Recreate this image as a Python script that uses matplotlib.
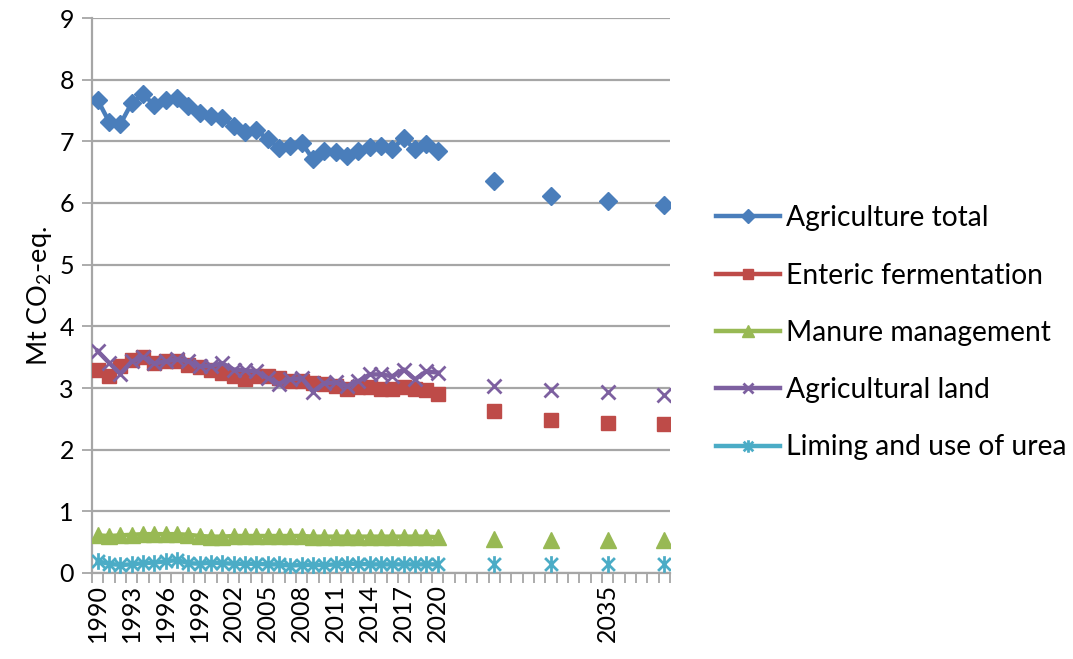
import matplotlib
matplotlib.use("Agg")
import matplotlib.pyplot as plt
from matplotlib.path import Path
from matplotlib.lines import Line2D

plt.rcParams['font.family'] = ['Lato', 'DejaVu Sans']
plt.rcParams['mathtext.fontset'] = 'custom'
plt.rcParams['mathtext.rm'] = 'Lato'
plt.rcParams['mathtext.it'] = 'Lato:italic'

# Historical inventory years and projection years
years_hist = list(range(1990, 2021))
years_proj = [2025, 2030, 2035, 2040]

agri_total = [7.67, 7.32, 7.28, 7.62, 7.76, 7.59, 7.67, 7.70, 7.57, 7.46,
              7.41, 7.38, 7.25, 7.15, 7.19, 7.03, 6.90, 6.92, 6.98, 6.71,
              6.84, 6.83, 6.76, 6.85, 6.91, 6.93, 6.88, 7.05, 6.87, 6.95, 6.84]
agri_total_proj = [6.35, 6.12, 6.04, 5.96]

enteric = [3.29, 3.20, 3.36, 3.46, 3.51, 3.41, 3.43, 3.43, 3.38, 3.34,
           3.29, 3.24, 3.20, 3.15, 3.20, 3.19, 3.16, 3.11, 3.11, 3.08,
           3.06, 3.04, 2.99, 3.01, 3.01, 2.99, 2.99, 3.01, 2.99, 2.96, 2.91]
enteric_proj = [2.62, 2.48, 2.44, 2.41]

manure = [0.61, 0.60, 0.61, 0.62, 0.63, 0.63, 0.63, 0.63, 0.62, 0.60,
          0.59, 0.59, 0.60, 0.60, 0.60, 0.60, 0.60, 0.60, 0.60, 0.59,
          0.59, 0.59, 0.59, 0.59, 0.59, 0.59, 0.59, 0.59, 0.59, 0.59, 0.58]
manure_proj = [0.55, 0.54, 0.54, 0.54]

agri_land = [3.60, 3.41, 3.23, 3.43, 3.50, 3.40, 3.43, 3.47, 3.43, 3.35,
             3.36, 3.40, 3.30, 3.29, 3.27, 3.16, 3.07, 3.14, 3.16, 2.94,
             3.08, 3.09, 3.03, 3.11, 3.22, 3.22, 3.19, 3.30, 3.14, 3.27, 3.25]
agri_land_proj = [3.04, 2.97, 2.93, 2.88]

liming = [0.19, 0.15, 0.13, 0.14, 0.16, 0.17, 0.19, 0.21, 0.16, 0.15,
          0.17, 0.16, 0.15, 0.15, 0.15, 0.14, 0.14, 0.12, 0.13, 0.13,
          0.13, 0.14, 0.15, 0.15, 0.14, 0.14, 0.14, 0.14, 0.14, 0.14, 0.14]
liming_proj = [0.14, 0.14, 0.14, 0.14]

labels = ["Agriculture total", "Enteric fermentation", "Manure management",
          "Agricultural land", "Liming and use of urea"]

tick_years = [1990, 1993, 1996, 1999, 2002, 2005, 2008, 2011, 2014, 2017, 2020, 2035]

# X-with-vertical-bar marker
star_path = Path([(-1, -1), (1, 1), (-1, 1), (1, -1), (0, -1.3), (0, 1.3)],
                 [Path.MOVETO, Path.LINETO, Path.MOVETO, Path.LINETO,
                  Path.MOVETO, Path.LINETO])

series = [
    (agri_total, agri_total_proj, '#4A7EBB', 'D', 9, 1.0),
    (enteric, enteric_proj, '#BE4B48', 's', 10, 1.0),
    (manure, manure_proj, '#98B954', '^', 11, 1.0),
    (agri_land, agri_land_proj, '#7D60A0', 'x', 10, 2.0),
    (liming, liming_proj, '#4BACC6', star_path, 12, 2.0),
]

fig = plt.figure(figsize=(10.73, 6.59), dpi=100)
ax = fig.add_axes([92 / 1073, 1 - 573 / 659, (670 - 92) / 1073, (573 - 18) / 659])

handles = []
for hist, proj, color, marker, ms, mew in series:
    ax.plot(years_hist, hist, color=color, lw=3.2, marker=marker, ms=ms,
            mfc=color, mec=color, mew=mew, zorder=3)
    ax.plot(years_proj, proj, color=color, ls='none', marker=marker, ms=ms,
            mfc=color, mec=color, mew=mew, zorder=3)
    handles.append(Line2D([], [], color=color, lw=3.2, marker=marker,
                          ms=ms * 0.75, mfc=color, mec=color, mew=mew))

ax.set_xlim(1989.5, 2040.5)
ax.set_ylim(0, 9)
ax.set_yticks(range(0, 10))
ax.yaxis.grid(True, color='#A6A6A6', lw=1.6)
ax.set_axisbelow(True)

ax.set_xticks(tick_years)
ax.set_xticklabels([str(y) for y in tick_years], rotation=90)
ax.set_xticks([y + 0.5 for y in range(1989, 2041)], minor=True)
ax.tick_params(axis='x', which='major', length=0, pad=8, labelsize=18)
ax.tick_params(axis='x', which='minor', length=7, width=1.3, color='#A6A6A6')
ax.tick_params(axis='y', which='major', length=7, width=1.3, color='#A6A6A6',
               labelsize=18, pad=6)

for side in ('top', 'right'):
    ax.spines[side].set_visible(False)
for side in ('left', 'bottom'):
    ax.spines[side].set_color('#A6A6A6')
    ax.spines[side].set_linewidth(1.6)

ax.set_ylabel('Mt CO$_2$-eq.', fontsize=19.5, labelpad=4)

fig.legend(handles, labels, loc='upper left', bbox_to_anchor=(705 / 1073, 1 - 194 / 659),
           frameon=False, fontsize=20.3, handlelength=2.27, handletextpad=0.22,
           labelspacing=1.11, numpoints=1, borderaxespad=0)

fig.savefig('out.png', dpi=100)
